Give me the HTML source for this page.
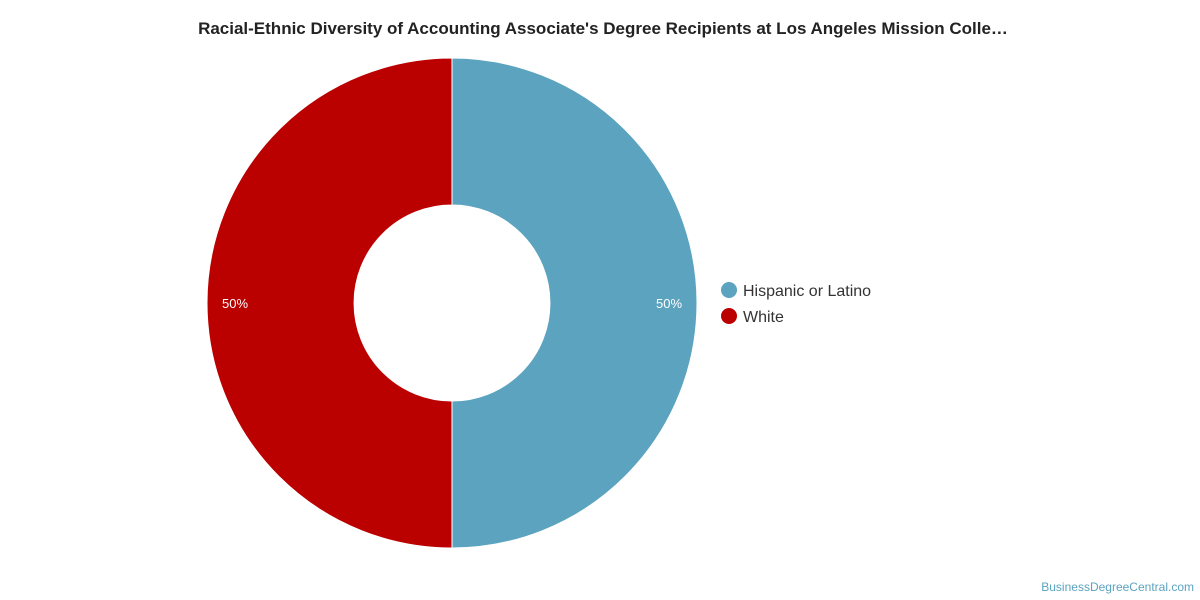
<!DOCTYPE html>
<html><head><meta charset="utf-8"><style>
body{margin:0;background:#fff;font-family:"Liberation Sans",Arial,sans-serif;}
#wrap{position:relative;width:1200px;height:600px;overflow:hidden;}
</style></head><body>
<div id="wrap">
<svg id="svg" width="1200" height="600">
<text x="603" y="34" text-anchor="middle" font-size="17" font-weight="bold" fill="#222">Racial-Ethnic Diversity of Accounting Associate's Degree Recipients at Los Angeles Mission Colle…</text>
<g id="slices"></g>
<g id="legend"></g>
<text x="1194" y="591" text-anchor="end" font-size="12" fill="#5ba3c0">BusinessDegreeCentral.com</text>
</svg>
</div>
<script>
const categories=["Hispanic or Latino","White"];
const values=[50,50];
const labels=["50%","50%"];
const colors=["#5ba3bf","#bb0000"];
const cx=452,cy=303,R=245,r=98;
const ns="http://www.w3.org/2000/svg";
const total=values.reduce((a,b)=>a+b,0);
let a0=0;
const g=document.getElementById('slices');
values.forEach((v,i)=>{
  const a1=a0+v/total*2*Math.PI;
  const pt=(rad,a)=>[cx+rad*Math.sin(a),cy-rad*Math.cos(a)];
  const large=(a1-a0)>Math.PI?1:0;
  const [x0,y0]=pt(R,a0),[x1,y1]=pt(R,a1),[x2,y2]=pt(r,a1),[x3,y3]=pt(r,a0);
  const p=document.createElementNS(ns,'path');
  p.setAttribute('d',`M${x0},${y0}A${R},${R} 0 ${large} 1 ${x1},${y1}L${x2},${y2}A${r},${r} 0 ${large} 0 ${x3},${y3}Z`);
  p.setAttribute('fill',colors[i]);p.setAttribute('stroke','#fff');p.setAttribute('stroke-width','1');
  
  
  g.appendChild(p);
  const am=(a0+a1)/2;const [lx,ly]=pt(R-28,am);
  const t=document.createElementNS(ns,'text');
  t.setAttribute('x',lx);t.setAttribute('y',ly+5);t.setAttribute('text-anchor','middle');
  t.setAttribute('font-size','13');t.setAttribute('fill','#fff');t.textContent=labels[i];
  
  
  g.appendChild(t);
  a0=a1;
});
const lg=document.getElementById('legend');
categories.forEach((c,i)=>{
  const y=290+i*26;
  const gi=document.createElementNS(ns,'g');
  
  
  const ci=document.createElementNS(ns,'circle');
  ci.setAttribute('cx',729);ci.setAttribute('cy',y);ci.setAttribute('r',8);ci.setAttribute('fill',colors[i]);
  const t=document.createElementNS(ns,'text');
  t.setAttribute('x',743);t.setAttribute('y',y+6);t.setAttribute('font-size','16');t.setAttribute('fill','#333');
  t.textContent=c;
  gi.appendChild(ci);gi.appendChild(t);lg.appendChild(gi);
});
</script>
</body></html>
